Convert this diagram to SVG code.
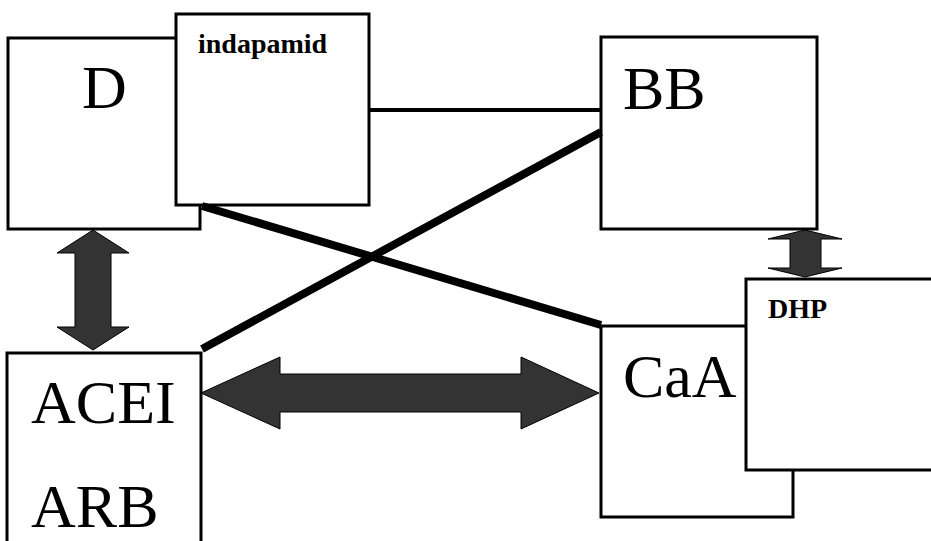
<svg xmlns="http://www.w3.org/2000/svg" width="931" height="541" viewBox="0 0 931 541">
<style>
.box{fill:#fff;stroke:#000;stroke-width:3}
.big{font-family:"Liberation Serif","Times New Roman",serif;font-size:62px;fill:#000}
.small{font-family:"Liberation Serif","Times New Roman",serif;font-size:28px;font-weight:bold;fill:#000}
.arr{fill:#333;stroke:#000;stroke-width:1}
.thin{stroke:#000;stroke-width:4;fill:none}
.thick{stroke:#000;stroke-width:8;fill:none}
</style>
<rect width="931" height="541" fill="#fff"/>
<g id="D">
<rect class="box" x="8" y="38" width="192" height="191"/>
<text class="big" x="82" y="108">D</text>
</g>
<g id="indapamid">
<rect class="box" x="176" y="14" width="193" height="191"/>
<text class="small" x="198" y="53">indapamid</text>
</g>
<g id="BB">
<rect class="box" x="601" y="37" width="216" height="192"/>
<text class="big" x="623" y="109">BB</text>
</g>
<g id="ACEI">
<rect class="box" x="7" y="353" width="194" height="200"/>
<text class="big" x="31" y="423">ACEI</text>
<text class="big" x="31" y="527">ARB</text>
</g>
<g id="CaA">
<rect class="box" x="601" y="326" width="192" height="191"/>
<text class="big" x="623" y="397">CaA</text>
</g>
<g id="DHP">
<rect class="box" x="746" y="279" width="200" height="191"/>
<text class="small" x="768" y="318">DHP</text>
</g>
<g id="connectors">
<line class="thin" x1="369" y1="110" x2="601" y2="110"/>
<line class="thick" x1="202" y1="349" x2="601" y2="132"/>
<line class="thick" x1="202" y1="206" x2="601" y2="325"/>
<polygon class="arr" points="93,230 129,253 111,253 111,327 129,327 93,350 57,327 75,327 75,253 57,253"/>
<polygon class="arr" points="201,393 280,357 280,374 521,374 521,357 599,393 521,429 521,412 280,412 280,429"/>
<polygon class="arr" points="805,230 842,239 821,239 821,268 842,268 805,277 768,268 790,268 790,239 768,239"/>
</g>
</svg>
